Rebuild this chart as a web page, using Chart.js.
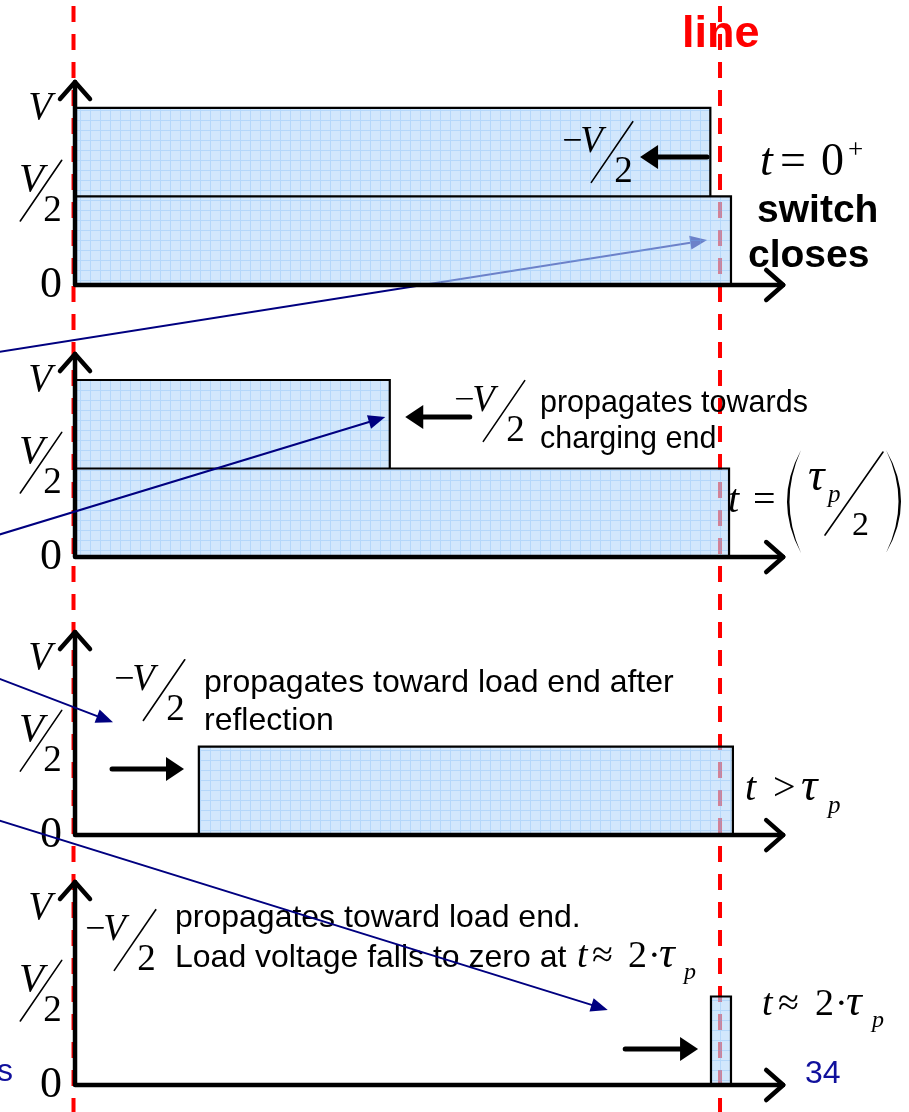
<!DOCTYPE html>
<html>
<head>
<meta charset="utf-8">
<script src="https://cdn.jsdelivr.net/npm/chart.js@4.4.0/dist/chart.umd.min.js"></script>
<style>
  html, body { margin: 0; padding: 0; background: #fff; }
</style>
</head>
<body>
<canvas id="chart" width="909" height="1112"></canvas>
<script>
// position along the line: 0 = switch (charging) end, 1 = load end
// voltage levels in units of V
const snapshots = ['t = 0+', 't = τp/2', 't > τp', 't ≈ 2·τp'];
const pulsePanel = [0, 0, 1, 1, 2, 3];
const pulseFrom = [0, 0, 0, 0, 0.192, 0.986];
const pulseTo = [1.017, 0.985, 1.014, 0.488, 1.02, 1.017];
const pulseLow = [0, 0.5, 0, 0.5, 0, 0];
const pulseHigh = [0.5, 1, 0.5, 1, 0.5, 0.5];
const lineEnds = [0, 1];

// layout (not data)
const panelOffset = [4.52, 2.983, 1.412, 0];
const X_MIN = -0.1163, X_MAX = 1.293;
const Y_MIN = -0.1525, Y_MAX = 6.13;

const SERIF = '"Liberation Serif", "Times New Roman", serif';
const SANS = '"Liberation Sans", Arial, sans-serif';
const NAVY = '#000080';

const canvas = document.getElementById('chart');
const ctx0 = canvas.getContext('2d');

function gridPattern() {
    const c = document.createElement('canvas');
    c.width = 10; c.height = 10;
    const g = c.getContext('2d');
    g.fillStyle = 'rgba(180,215,250,0.6)';
    g.fillRect(0, 0, 10, 10);
    g.fillStyle = 'rgba(110,175,245,0.3)';
    g.fillRect(0, 0, 10, 1);
    g.fillRect(0, 1, 1, 9);
    return ctx0.createPattern(c, 'repeat');
}
const pattern = gridPattern();

const datasets = pulseFrom.map((x0, i) => {
    const off = panelOffset[pulsePanel[i]];
    return {
        label: snapshots[pulsePanel[i]],
        data: [
            { x: x0, y: off + pulseLow[i] },
            { x: x0, y: off + pulseHigh[i] },
            { x: pulseTo[i], y: off + pulseHigh[i] },
            { x: pulseTo[i], y: off + pulseLow[i] }
        ],
        borderColor: '#000',
        borderWidth: 2.2,
        backgroundColor: pattern,
        fill: { value: off + pulseLow[i] },
        pointRadius: 0,
        tension: 0
    };
});

// annotation arrows: [u, panel, v]
const pointers = [
    { from: [-0.12, 0, -0.379], to: [0.980, 0, 0.254] },
    { from: [-0.12, 1, 0.124], to: [0.481, 1, 0.791] },
    { from: [-0.12, 2, 0.887], to: [0.0589, 2, 0.638] },
    { from: [-0.12, 2, 0.085], to: [0.826, 3, 0.424] }
];
const moveArrows = [
    { p: 0, from: 0.980, to: 0.876, v: 0.723 },
    { p: 1, from: 0.612, to: 0.512, v: 0.791 },
    { p: 2, from: 0.0574, to: 0.169, v: 0.373 },
    { p: 3, from: 0.853, to: 0.966, v: 0.203 }
];
const waveLabels = [
    { p: 0, u: 0.8326, v: 0.751 },
    { p: 1, u: 0.6651, v: 0.825 },
    { p: 2, u: 0.138, v: 0.819 },
    { p: 3, u: 0.093, v: 0.819 }
];
const notes = [
    { p: 0, u: 0.941, v: 1.345, text: 'line', font: 'bold 45px ' + SANS, color: '#ff0000' },
    { p: 0, u: 1.0574, v: 0.356, text: 'switch', font: 'bold 39px ' + SANS },
    { p: 0, u: 1.0434, v: 0.1017, text: 'closes', font: 'bold 39px ' + SANS },
    { p: 1, u: 0.7209, v: 0.819, text: 'propagates towards', font: '30.5px ' + SANS },
    { p: 1, u: 0.7209, v: 0.616, text: 'charging end', font: '30.5px ' + SANS },
    { p: 2, u: 0.2, v: 0.808, text: 'propagates toward load end after', font: '32px ' + SANS },
    { p: 2, u: 0.2, v: 0.593, text: 'reflection', font: '32px ' + SANS },
    { p: 3, u: 0.155, v: 0.893, text: 'propagates toward load end.', font: '32px ' + SANS },
    { p: 3, u: 0.155, v: 0.667, text: 'Load voltage falls to zero at', font: '32px ' + SANS },
    { p: 3, u: 1.1318, v: 0.011, text: '34', font: '32px ' + SANS, color: '#10109c' },
    { p: 3, u: -0.096, v: 0.023, text: 's', font: '32px ' + SANS, color: '#10109c', align: 'right' }
];
// math runs: [text, italic?, size, dx, dy]
const formulas = [
    { p: 0, u: 1.062, v: 0.621, parts: [['t', 1, 46, 0, 0], ['=', 0, 46, 20, 0], ['0', 0, 46, 61, 0], ['+', 0, 27, 88, -17]] },
    { p: 1, u: 1.0124, v: 0.254, parts: [['t', 1, 40, 0, 0], ['=', 0, 40, 25, 0], ['τ', 1, 46, 80, -22], ['p', 1, 25, 100, -10], ['2', 0, 34, 124, 23]], tauOver2: true },
    { p: 2, u: 1.0388, v: 0.198, parts: [['t', 1, 40, 0, 0], ['>', 0, 40, 28, 0], ['τ', 1, 46, 56, 0], ['p', 1, 25, 83, 13]] },
    { p: 3, u: 1.0651, v: 0.395, parts: [['t', 1, 38, 0, 0], ['≈', 0, 38, 16, 0], ['2', 0, 38, 53, 0], ['·', 0, 38, 73, 0], ['τ', 1, 44, 84, 0], ['p', 1, 24, 110, 12]] },
    { p: 3, u: 0.7783, v: 0.667, parts: [['t', 1, 38, 0, 0], ['≈', 0, 38, 15, 0], ['2', 0, 38, 51, 0], ['·', 0, 38, 71, 0], ['τ', 1, 44, 82, 0], ['p', 1, 24, 107, 12]] }
];

function frac(ctx, cx, cy, s, minus) {
    ctx.save();
    ctx.fillStyle = '#000';
    ctx.strokeStyle = '#000';
    ctx.lineWidth = 1.6;
    ctx.beginPath();
    ctx.moveTo(cx - 0.56 * s, cy + 0.82 * s);
    ctx.lineTo(cx + 0.56 * s, cy - 0.82 * s);
    ctx.stroke();
    ctx.textBaseline = 'alphabetic';
    ctx.textAlign = 'right';
    if (minus) {
        ctx.font = 'italic ' + s + 'px ' + SERIF;
        ctx.fillText('V', cx - 0.25 * s, cy);
        ctx.beginPath();
        ctx.moveTo(cx - 1.28 * s, cy - 0.33 * s);
        ctx.lineTo(cx - 0.86 * s, cy - 0.33 * s);
        ctx.stroke();
    } else {
        ctx.font = 'italic ' + Math.round(s * 1.1) + 'px ' + SERIF;
        ctx.fillText('V', cx + 0.08 * s, cy);
    }
    ctx.font = s + 'px ' + SERIF;
    ctx.textAlign = 'left';
    ctx.fillText('2', cx + 0.06 * s, cy + 0.82 * s);
    ctx.restore();
}

function arrow(ctx, x1, y1, x2, y2, width, len, half, color) {
    const a = Math.atan2(y2 - y1, x2 - x1);
    const bx = x2 - len * Math.cos(a), by = y2 - len * Math.sin(a);
    ctx.save();
    ctx.strokeStyle = color;
    ctx.fillStyle = color;
    ctx.lineWidth = width;
    ctx.beginPath();
    ctx.moveTo(x1, y1);
    ctx.lineTo(bx, by);
    ctx.stroke();
    ctx.beginPath();
    ctx.moveTo(x2, y2);
    ctx.lineTo(bx + half * Math.sin(a), by - half * Math.cos(a));
    ctx.lineTo(bx - half * Math.sin(a), by + half * Math.cos(a));
    ctx.closePath();
    ctx.fill();
    ctx.restore();
}

function paren(ctx, x, yTop, yBot, bulge) {
    const ym = (yTop + yBot) / 2;
    ctx.beginPath();
    ctx.moveTo(x, yTop);
    ctx.quadraticCurveTo(x + 2 * bulge, ym, x, yBot);
    ctx.quadraticCurveTo(x + 2 * bulge - Math.sign(bulge) * 5, ym, x, yTop);
    ctx.fill();
}

const diagram = {
    id: 'diagram',
    beforeDatasetsDraw(chart) {
        const { ctx, scales: { x, y } } = chart;
        const P = (u, p, v) => [x.getPixelForValue(u), y.getPixelForValue(panelOffset[p] + v)];
        ctx.save();
        ctx.strokeStyle = '#ff0000';
        ctx.lineWidth = 4;
        ctx.setLineDash([16, 12]);
        ctx.lineDashOffset = 22;
        lineEnds.forEach(u => {
            const px = x.getPixelForValue(u) - (u === 0 ? 1.5 : 0);
            ctx.beginPath();
            ctx.moveTo(px, 0);
            ctx.lineTo(px, chart.height);
            ctx.stroke();
        });
        ctx.restore();
        // first pointer sits under the pulse fill
        const a = pointers[0];
        const f = P(...a.from), t = P(...a.to);
        arrow(ctx, f[0], f[1], t[0], t[1], 2, 17, 7, NAVY);
    },
    afterDatasetsDraw(chart) {
        const { ctx, scales: { x, y } } = chart;
        const P = (u, p, v) => [x.getPixelForValue(u), y.getPixelForValue(panelOffset[p] + v)];
        ctx.save();
        ctx.setLineDash([]);

        // axes with open arrow heads and level labels
        for (let p = 0; p < 4; p++) {
            const [bx, by] = P(0, p, 0);
            const top = P(0, p, 1.147)[1];
            const right = x.getPixelForValue(1.098);
            ctx.strokeStyle = '#000';
            ctx.lineWidth = 4.5;
            ctx.lineJoin = 'round';
            ctx.lineCap = 'round';
            ctx.beginPath();
            ctx.moveTo(bx, top);
            ctx.lineTo(bx, by);
            ctx.lineTo(right, by);
            ctx.stroke();
            ctx.beginPath();
            ctx.moveTo(bx - 15, top + 17);
            ctx.lineTo(bx, top);
            ctx.lineTo(bx + 15, top + 17);
            ctx.moveTo(right - 17, by - 15);
            ctx.lineTo(right, by);
            ctx.lineTo(right - 17, by + 15);
            ctx.stroke();

            ctx.fillStyle = '#000';
            ctx.textAlign = 'right';
            ctx.textBaseline = 'alphabetic';
            ctx.font = 'italic 39px ' + SERIF;
            const vp = P(-0.0357, p, 0.94);
            ctx.fillText('V', vp[0], vp[1]);
            ctx.font = '44px ' + SERIF;
            const zp = P(-0.0202, p, -0.066);
            ctx.fillText('0', zp[0], zp[1]);
            const hp = P(-0.0527, p, 0.533);
            frac(ctx, hp[0], hp[1], 37, false);
        }

        // -V/2 wave labels
        waveLabels.forEach(w => {
            const c = P(w.u, w.p, w.v);
            frac(ctx, c[0], c[1], 37, true);
        });

        // direction arrows
        moveArrows.forEach(m => {
            const a = P(m.from, m.p, m.v), b = P(m.to, m.p, m.v);
            arrow(ctx, a[0], a[1], b[0], b[1], 5, 18, 12, '#000');
        });

        // notes
        notes.forEach(n => {
            const c = P(n.u, n.p, n.v);
            ctx.font = n.font;
            ctx.fillStyle = n.color || '#000';
            ctx.textAlign = n.align || 'left';
            ctx.fillText(n.text, c[0], c[1]);
        });

        // math
        ctx.fillStyle = '#000';
        ctx.textAlign = 'left';
        formulas.forEach(f => {
            const [x0, y0] = P(f.u, f.p, f.v);
            f.parts.forEach(([t, it, s, dx, dy]) => {
                ctx.font = (it ? 'italic ' : '') + s + 'px ' + SERIF;
                ctx.fillText(t, x0 + dx, y0 + dy);
            });
            if (f.tauOver2) {
                ctx.strokeStyle = '#000';
                ctx.lineWidth = 1.6;
                ctx.beginPath();
                ctx.moveTo(x0 + 97, y0 + 23);
                ctx.lineTo(x0 + 155, y0 - 60);
                ctx.stroke();
                paren(ctx, x0 + 73, y0 - 62, y0 + 41, -14);
                paren(ctx, x0 + 158, y0 - 62, y0 + 41, 15);
            }
        });

        // remaining pointers
        pointers.slice(1).forEach(a => {
            const f = P(...a.from), t = P(...a.to);
            arrow(ctx, f[0], f[1], t[0], t[1], 2, 17, 7, NAVY);
        });
        ctx.restore();
    }
};

new Chart(canvas, {
    type: 'line',
    data: { datasets: datasets },
    options: {
        responsive: false,
        animation: false,
        layout: { padding: 0 },
        plugins: {
            legend: { display: false },
            tooltip: { enabled: false }
        },
        scales: {
            x: { type: 'linear', min: X_MIN, max: X_MAX, display: false },
            y: { type: 'linear', min: Y_MIN, max: Y_MAX, display: false }
        }
    },
    plugins: [diagram]
});
</script>
</body>
</html>
